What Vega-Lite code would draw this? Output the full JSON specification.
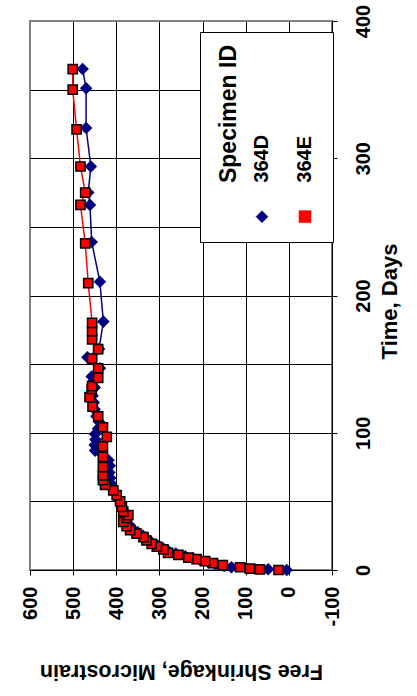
{
  "$schema": "https://vega.github.io/schema/vega-lite/v6.json",
  "width": 302,
  "height": 549,
  "autosize": {"type": "none"},
  "padding": {"left": 30, "top": 21, "right": 85, "bottom": 126},
  "background": "white",
  "config": {"font": "Liberation Sans", "view": {"stroke": "#808080", "strokeWidth": 2}},
  "data": {"values": [
    {"Specimen": "364D", "Time": 0, "Shrinkage": 5},
    {"Specimen": "364D", "Time": 0.5, "Shrinkage": 48},
    {"Specimen": "364D", "Time": 1, "Shrinkage": 98},
    {"Specimen": "364D", "Time": 2, "Shrinkage": 133},
    {"Specimen": "364D", "Time": 3, "Shrinkage": 150},
    {"Specimen": "364D", "Time": 4, "Shrinkage": 170},
    {"Specimen": "364D", "Time": 5.5, "Shrinkage": 186},
    {"Specimen": "364D", "Time": 7, "Shrinkage": 205},
    {"Specimen": "364D", "Time": 8.5, "Shrinkage": 222},
    {"Specimen": "364D", "Time": 10, "Shrinkage": 240},
    {"Specimen": "364D", "Time": 12, "Shrinkage": 262},
    {"Specimen": "364D", "Time": 14, "Shrinkage": 280},
    {"Specimen": "364D", "Time": 16, "Shrinkage": 292},
    {"Specimen": "364D", "Time": 18, "Shrinkage": 305},
    {"Specimen": "364D", "Time": 20, "Shrinkage": 318},
    {"Specimen": "364D", "Time": 22.5, "Shrinkage": 328},
    {"Specimen": "364D", "Time": 25, "Shrinkage": 338},
    {"Specimen": "364D", "Time": 27.5, "Shrinkage": 350},
    {"Specimen": "364D", "Time": 30, "Shrinkage": 362},
    {"Specimen": "364D", "Time": 33, "Shrinkage": 370},
    {"Specimen": "364D", "Time": 36, "Shrinkage": 378},
    {"Specimen": "364D", "Time": 39, "Shrinkage": 382},
    {"Specimen": "364D", "Time": 42, "Shrinkage": 380},
    {"Specimen": "364D", "Time": 45, "Shrinkage": 386},
    {"Specimen": "364D", "Time": 48, "Shrinkage": 390},
    {"Specimen": "364D", "Time": 52, "Shrinkage": 396},
    {"Specimen": "364D", "Time": 56, "Shrinkage": 402},
    {"Specimen": "364D", "Time": 59, "Shrinkage": 408},
    {"Specimen": "364D", "Time": 63, "Shrinkage": 412},
    {"Specimen": "364D", "Time": 67, "Shrinkage": 414},
    {"Specimen": "364D", "Time": 71, "Shrinkage": 416},
    {"Specimen": "364D", "Time": 76, "Shrinkage": 415},
    {"Specimen": "364D", "Time": 80, "Shrinkage": 418},
    {"Specimen": "364D", "Time": 84, "Shrinkage": 432},
    {"Specimen": "364D", "Time": 87, "Shrinkage": 449},
    {"Specimen": "364D", "Time": 91, "Shrinkage": 450},
    {"Specimen": "364D", "Time": 95, "Shrinkage": 448},
    {"Specimen": "364D", "Time": 99, "Shrinkage": 449},
    {"Specimen": "364D", "Time": 103, "Shrinkage": 442},
    {"Specimen": "364D", "Time": 108, "Shrinkage": 440},
    {"Specimen": "364D", "Time": 112, "Shrinkage": 446},
    {"Specimen": "364D", "Time": 117, "Shrinkage": 450},
    {"Specimen": "364D", "Time": 122, "Shrinkage": 452},
    {"Specimen": "364D", "Time": 127, "Shrinkage": 455},
    {"Specimen": "364D", "Time": 133, "Shrinkage": 450},
    {"Specimen": "364D", "Time": 138, "Shrinkage": 452},
    {"Specimen": "364D", "Time": 141, "Shrinkage": 457},
    {"Specimen": "364D", "Time": 147, "Shrinkage": 438},
    {"Specimen": "364D", "Time": 155, "Shrinkage": 467},
    {"Specimen": "364D", "Time": 161, "Shrinkage": 440},
    {"Specimen": "364D", "Time": 181, "Shrinkage": 430},
    {"Specimen": "364D", "Time": 210, "Shrinkage": 438},
    {"Specimen": "364D", "Time": 239, "Shrinkage": 457},
    {"Specimen": "364D", "Time": 266, "Shrinkage": 461},
    {"Specimen": "364D", "Time": 275, "Shrinkage": 465},
    {"Specimen": "364D", "Time": 294, "Shrinkage": 459},
    {"Specimen": "364D", "Time": 322, "Shrinkage": 470},
    {"Specimen": "364D", "Time": 351, "Shrinkage": 470},
    {"Specimen": "364D", "Time": 365, "Shrinkage": 478},
    {"Specimen": "364E", "Time": 0, "Shrinkage": 24},
    {"Specimen": "364E", "Time": 0.5, "Shrinkage": 67},
    {"Specimen": "364E", "Time": 1, "Shrinkage": 90},
    {"Specimen": "364E", "Time": 2, "Shrinkage": 113},
    {"Specimen": "364E", "Time": 3.5, "Shrinkage": 153},
    {"Specimen": "364E", "Time": 5, "Shrinkage": 176},
    {"Specimen": "364E", "Time": 6.5, "Shrinkage": 194},
    {"Specimen": "364E", "Time": 8, "Shrinkage": 214},
    {"Specimen": "364E", "Time": 9, "Shrinkage": 233},
    {"Specimen": "364E", "Time": 11, "Shrinkage": 256},
    {"Specimen": "364E", "Time": 12.5, "Shrinkage": 280},
    {"Specimen": "364E", "Time": 15, "Shrinkage": 291},
    {"Specimen": "364E", "Time": 17, "Shrinkage": 306},
    {"Specimen": "364E", "Time": 19, "Shrinkage": 318},
    {"Specimen": "364E", "Time": 21.5, "Shrinkage": 330},
    {"Specimen": "364E", "Time": 24, "Shrinkage": 337},
    {"Specimen": "364E", "Time": 26.5, "Shrinkage": 353},
    {"Specimen": "364E", "Time": 29, "Shrinkage": 368},
    {"Specimen": "364E", "Time": 32, "Shrinkage": 376},
    {"Specimen": "364E", "Time": 35, "Shrinkage": 384},
    {"Specimen": "364E", "Time": 38, "Shrinkage": 376},
    {"Specimen": "364E", "Time": 40, "Shrinkage": 372},
    {"Specimen": "364E", "Time": 42.5, "Shrinkage": 384},
    {"Specimen": "364E", "Time": 46, "Shrinkage": 387},
    {"Specimen": "364E", "Time": 50, "Shrinkage": 391},
    {"Specimen": "364E", "Time": 54.5, "Shrinkage": 399},
    {"Specimen": "364E", "Time": 58, "Shrinkage": 407},
    {"Specimen": "364E", "Time": 62, "Shrinkage": 426},
    {"Specimen": "364E", "Time": 65.5, "Shrinkage": 431},
    {"Specimen": "364E", "Time": 69, "Shrinkage": 431},
    {"Specimen": "364E", "Time": 75, "Shrinkage": 431},
    {"Specimen": "364E", "Time": 82.5, "Shrinkage": 431},
    {"Specimen": "364E", "Time": 90, "Shrinkage": 431},
    {"Specimen": "364E", "Time": 97, "Shrinkage": 422},
    {"Specimen": "364E", "Time": 104, "Shrinkage": 431},
    {"Specimen": "364E", "Time": 112, "Shrinkage": 442},
    {"Specimen": "364E", "Time": 119, "Shrinkage": 455},
    {"Specimen": "364E", "Time": 126, "Shrinkage": 462},
    {"Specimen": "364E", "Time": 132, "Shrinkage": 457},
    {"Specimen": "364E", "Time": 134, "Shrinkage": 456},
    {"Specimen": "364E", "Time": 140, "Shrinkage": 442},
    {"Specimen": "364E", "Time": 147, "Shrinkage": 442},
    {"Specimen": "364E", "Time": 154, "Shrinkage": 456},
    {"Specimen": "364E", "Time": 161, "Shrinkage": 442},
    {"Specimen": "364E", "Time": 168, "Shrinkage": 456},
    {"Specimen": "364E", "Time": 174, "Shrinkage": 456},
    {"Specimen": "364E", "Time": 180, "Shrinkage": 456},
    {"Specimen": "364E", "Time": 209, "Shrinkage": 465},
    {"Specimen": "364E", "Time": 238, "Shrinkage": 472},
    {"Specimen": "364E", "Time": 266, "Shrinkage": 483},
    {"Specimen": "364E", "Time": 275, "Shrinkage": 472},
    {"Specimen": "364E", "Time": 294, "Shrinkage": 483},
    {"Specimen": "364E", "Time": 321, "Shrinkage": 492},
    {"Specimen": "364E", "Time": 350, "Shrinkage": 501},
    {"Specimen": "364E", "Time": 365, "Shrinkage": 501}
  ]},
  "encoding": {
    "x": {
      "field": "Shrinkage", "type": "quantitative",
      "scale": {"domain": [-100, 600], "reverse": true, "nice": false, "zero": false},
      "axis": {
        "values": [-100, 0, 100, 200, 300, 400, 500, 600],
        "grid": true,
        "gridColor": {"condition": {"test": "datum.value === 600", "value": "#808080"}, "value": "black"},
        "gridWidth": 1,
        "tickSize": 5, "tickColor": "black", "tickWidth": 1,
        "domain": true, "domainColor": "black", "domainWidth": 1,
        "labelAngle": 270, "labelAlign": "right", "labelBaseline": "middle",
        "labelPadding": 11, "labelFontSize": 20, "labelFontWeight": "bold", "labelColor": "black",
        "labelExpr": "'' + datum.value",
        "labelOverlap": false, "labelBound": false, "labelFlush": false,
        "title": "Free Shrinkage, Microstrain",
        "titleAngle": 180, "titleFontSize": 21.5, "titleFontWeight": "bold", "titleColor": "black",
        "titleY": 100, "titleBaseline": "middle", "titleAlign": "center"
      }
    },
    "y": {
      "field": "Time", "type": "quantitative",
      "scale": {"domain": [0, 400], "nice": false},
      "axis": {
        "orient": "right",
        "values": [0, 50, 100, 150, 200, 250, 300, 350, 400],
        "grid": true,
        "gridColor": {"condition": {"test": "datum.value === 400", "value": "#808080"}, "value": "black"},
        "gridWidth": 1,
        "tickSize": 5, "tickColor": "black", "tickWidth": 1,
        "tickOpacity": {"condition": {"test": "datum.value % 100 === 0", "value": 1}, "value": 0},
        "domain": true, "domainColor": "black", "domainWidth": 1,
        "labelAngle": 270, "labelAlign": "center", "labelBaseline": "top",
        "labelPadding": 16, "labelFontSize": 20, "labelFontWeight": "bold", "labelColor": "black",
        "labelExpr": "datum.value % 100 === 0 ? '' + datum.value : ''",
        "labelOverlap": false, "labelBound": false, "labelFlush": false,
        "title": "Time, Days",
        "titleAngle": 270, "titleFontSize": 22, "titleFontWeight": "bold", "titleColor": "black",
        "titleX": 57, "titleY": 280, "titleAlign": "center", "titleBaseline": "middle"
      }
    }
  },
  "layer": [
    {
      "mark": {"type": "line", "strokeWidth": 1.5},
      "encoding": {
        "stroke": {
          "field": "Specimen", "type": "nominal",
          "scale": {"domain": ["364D", "364E"], "range": ["#000080", "#FF0000"]},
          "legend": {
            "title": "Specimen ID",
            "orient": "none", "legendX": 170, "legendY": 11,
            "direction": "horizontal",
            "titleOrient": "left", "titleAnchor": "start",
            "padding": 18, "titlePadding": 7, "columnPadding": 23,
            "fillColor": "white", "strokeColor": "black",
            "titleFont": "Liberation Sans", "titleFontSize": 23, "titleFontWeight": "bold", "titleColor": "black",
            "labelFont": "Liberation Sans", "labelFontSize": 20, "labelFontWeight": "bold", "labelColor": "black",
            "encoding": {
              "title": {"angle": {"value": -90}, "align": {"value": "right"}, "baseline": {"value": "top"}, "dx": {"value": 5}, "dy": {"value": -13}},
              "labels": {"angle": {"value": -90}, "align": {"value": "left"}, "baseline": {"value": "middle"}, "x": {"value": 0}, "y": {"value": 132.3}},
              "symbols": {
                "x": {"value": 0}, "y": {"value": 166.3}, "size": {"value": 144}, "opacity": {"value": 1},
                "shape": {"value": {"expr": "datum.value === '364D' ? 'M-0.12,-4.83H0.12V-0.8H-0.12ZM-0.12,0.8H0.12V4.33H-0.12ZM-0.95,0L0,-0.95L0.95,0L0,0.95Z' : 'M-0.12,-4.83H0.12V-0.7H-0.12ZM-0.12,0.7H0.12V4.33H-0.12ZM-0.77,-0.77H0.77V0.77H-0.77Z'"}},
                "fill": {"value": {"expr": "datum.value === '364D' ? '#000080' : '#FF0000'"}},
                "stroke": {"value": {"expr": "datum.value === '364D' ? '#000080' : '#FF0000'"}},
                "strokeWidth": {"value": 0.5}
              }
            }
          }
        },
        "order": {"field": "Time", "type": "quantitative"}
      }
    },
    {
      "mark": {"type": "point", "filled": true, "opacity": 1, "strokeWidth": 1.5},
      "encoding": {
        "fill": {"field": "Specimen", "type": "nominal", "scale": {"domain": ["364D", "364E"], "range": ["#000080", "#FF0000"]}},
        "shape": {"field": "Specimen", "type": "nominal", "scale": {"domain": ["364D", "364E"], "range": ["diamond", "square"]}},
        "stroke": {"condition": {"test": "datum.Specimen === '364E'", "value": "black"}, "value": "#000080"},
        "size": {"condition": {"test": "datum.Specimen === '364E'", "value": 85}, "value": 110}
      }
    }
  ]
}
